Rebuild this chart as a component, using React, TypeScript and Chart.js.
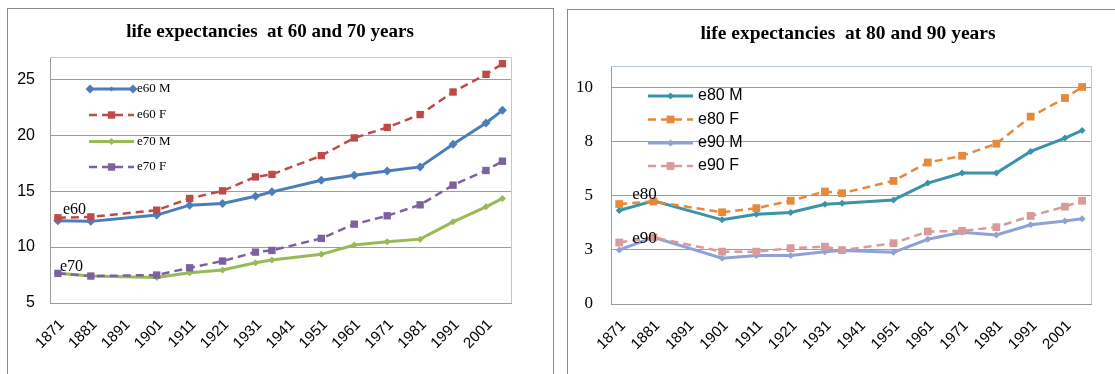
import React, { useEffect, useRef } from 'react';
import { Chart, registerables } from 'chart.js';

Chart.register(...registerables);

// Census / life-table years on the horizontal axis
const years = [1871, 1881, 1901, 1911, 1921, 1931, 1936, 1951, 1961, 1971, 1981, 1991, 2001, 2006];
const yearTicks = [1871, 1881, 1891, 1901, 1911, 1921, 1931, 1941, 1951, 1961, 1971, 1981, 1991, 2001];

// Remaining life expectancy at age 60 and 70 (years)
const e60M = [12.35, 12.3, 12.86, 13.75, 13.9, 14.55, 14.94, 15.98, 16.43, 16.8, 17.17, 19.2, 21.1, 22.23];
const e60F = [12.62, 12.7, 13.3, 14.35, 15.03, 16.28, 16.5, 18.18, 19.76, 20.7, 21.85, 23.87, 25.45, 26.4];
const e70M = [7.65, 7.41, 7.29, 7.7, 7.95, 8.6, 8.84, 9.35, 10.18, 10.47, 10.71, 12.26, 13.6, 14.35];
const e70F = [7.65, 7.41, 7.5, 8.15, 8.75, 9.55, 9.7, 10.78, 12.05, 12.8, 13.78, 15.54, 16.85, 17.68];

// Remaining life expectancy at age 80 and 90 (years)
const e80M = [4.32, 4.77, 3.89, 4.15, 4.23, 4.61, 4.66, 4.81, 5.59, 6.05, 6.05, 7.05, 7.67, 8.02];
const e80F = [4.62, 4.74, 4.24, 4.43, 4.77, 5.2, 5.12, 5.69, 6.54, 6.85, 7.41, 8.66, 9.52, 10.03];
const e90M = [2.5, 3.08, 2.12, 2.24, 2.24, 2.42, 2.47, 2.39, 2.99, 3.32, 3.19, 3.66, 3.84, 3.94];
const e90F = [2.84, 3.08, 2.42, 2.42, 2.58, 2.65, 2.49, 2.81, 3.35, 3.38, 3.55, 4.07, 4.5, 4.77];

const leftYTicks = [5, 10, 15, 20, 25];
const rightYTicks = [0, 2.5, 5, 7.5, 10];

const GRID = '#9c9c9c';
const AREA_EDGE = '#b9c9dc';

type Marker = 'rect' | 'rectRot';
interface Series {
  label: string;
  data: number[];
  color: string;
  dashed: boolean;
  marker: Marker;
  radius: number;
  width: number;
  legendEnds?: boolean;
}

interface Note {
  text: string;
  series: number;
  dx: number;
  dy: number;
}

interface Spec {
  title: string;
  titleFont: string;
  titleX: number;
  titleY: number;
  w: number;
  h: number;
  padTop: number;
  padRight: number;
  yAxisW: number;
  xAxisH: number;
  xMin: number;
  xMax: number;
  yMin: number;
  yMax: number;
  yTicks: number[];
  yFont: { family: string; size: number };
  yPad: number;
  xFont: { family: string; size: number };
  xPad: number;
  xLabelOffset: number;
  series: Series[];
  legendFont: string;
  legendX0: number;
  legendX1: number;
  legendTextX: number;
  legendRows: number[];
  notes: Note[];
  noteFont: string;
}

const leftSpec: Spec = {
  title: 'life expectancies  at 60 and 70 years',
  titleFont: 'bold 19px "Liberation Serif"',
  titleX: 262,
  titleY: 23,
  w: 545,
  h: 365,
  padTop: 48,
  padRight: 42,
  yAxisW: 42,
  xAxisH: 71,
  xMin: 1868.6,
  xMax: 2008.6,
  yMin: 5,
  yMax: 27,
  yTicks: leftYTicks,
  yFont: { family: '"Liberation Sans"', size: 16 },
  yPad: 15,
  xFont: { family: '"Liberation Sans"', size: 15 },
  xPad: 13,
  xLabelOffset: 4,
  series: [
    { label: 'e60 M', data: e60M, color: '#4a7ebb', dashed: false, marker: 'rectRot', radius: 4.5, width: 3, legendEnds: true },
    { label: 'e60 F', data: e60F, color: '#be4b48', dashed: true, marker: 'rect', radius: 5.2, width: 2.5 },
    { label: 'e70 M', data: e70M, color: '#98b954', dashed: false, marker: 'rectRot', radius: 3.5, width: 3 },
    { label: 'e70 F', data: e70F, color: '#7d60a0', dashed: true, marker: 'rect', radius: 5.2, width: 2.5 },
  ],
  legendFont: '13px "Liberation Serif"',
  legendX0: 81,
  legendX1: 126,
  legendTextX: 129,
  legendRows: [80, 106, 132.5, 158],
  notes: [
    { text: 'e60', series: 1, dx: 5, dy: -8 },
    { text: 'e70', series: 3, dx: 2, dy: -7 },
  ],
  noteFont: '16px "Liberation Serif"',
};

const rightSpec: Spec = {
  title: 'life expectancies  at 80 and 90 years',
  titleFont: 'bold 19.5px "Liberation Serif"',
  titleX: 280,
  titleY: 24,
  w: 547,
  h: 364,
  padTop: 56,
  padRight: 24,
  yAxisW: 43,
  xAxisH: 70,
  xMin: 1868.6,
  xMax: 2008.6,
  yMin: 0,
  yMax: 11,
  yTicks: rightYTicks,
  yFont: { family: '"Liberation Serif"', size: 17 },
  yPad: 18,
  xFont: { family: '"Liberation Sans"', size: 15 },
  xPad: 13,
  xLabelOffset: 4,
  series: [
    { label: 'e80 M', data: e80M, color: '#3b93a9', dashed: false, marker: 'rectRot', radius: 3.5, width: 3 },
    { label: 'e80 F', data: e80F, color: '#e6893a', dashed: true, marker: 'rect', radius: 5.5, width: 2.5 },
    { label: 'e90 M', data: e90M, color: '#8fa2d6', dashed: false, marker: 'rectRot', radius: 3.5, width: 3 },
    { label: 'e90 F', data: e90F, color: '#d89a9a', dashed: true, marker: 'rect', radius: 5.5, width: 2.5 },
  ],
  legendFont: '16px "Liberation Sans"',
  legendX0: 80,
  legendX1: 125,
  legendTextX: 130,
  legendRows: [86, 109.5, 133, 156],
  notes: [
    { text: 'e80', series: 1, dx: 13, dy: -10 },
    { text: 'e90', series: 3, dx: 13, dy: -4 },
  ],
  noteFont: '17px "Liberation Serif"',
};

const DASH = [8, 5];

function drawMarker(ctx: CanvasRenderingContext2D, marker: Marker, x: number, y: number, r: number, color: string) {
  ctx.save();
  ctx.fillStyle = color;
  ctx.beginPath();
  if (marker === 'rect') {
    const s = Math.SQRT1_2 * r;
    ctx.rect(x - s, y - s, 2 * s, 2 * s);
  } else {
    ctx.moveTo(x, y - r);
    ctx.lineTo(x + r, y);
    ctx.lineTo(x, y + r);
    ctx.lineTo(x - r, y);
    ctx.closePath();
  }
  ctx.fill();
  ctx.restore();
}

function decorPlugin(spec: Spec) {
  return {
    id: 'decor',
    beforeDatasetsDraw(chart: Chart) {
      // light frame on the top and right of the plot area
      const { ctx, chartArea: a } = chart;
      ctx.save();
      ctx.strokeStyle = AREA_EDGE;
      ctx.lineWidth = 1;
      ctx.beginPath();
      ctx.moveTo(a.left, Math.round(a.top) + 0.5);
      ctx.lineTo(Math.round(a.right) + 0.5, Math.round(a.top) + 0.5);
      ctx.lineTo(Math.round(a.right) + 0.5, a.bottom);
      ctx.stroke();
      ctx.restore();
    },
    afterDraw(chart: Chart) {
      const { ctx } = chart;
      const xs = chart.scales.x;
      const ys = chart.scales.y;
      ctx.save();

      // title
      ctx.fillStyle = '#000';
      ctx.font = spec.titleFont;
      ctx.textAlign = 'center';
      ctx.textBaseline = 'middle';
      ctx.fillText(spec.title, spec.titleX, spec.titleY);

      // legend inside the plot area
      spec.series.forEach((s, i) => {
        const y = spec.legendRows[i];
        ctx.save();
        ctx.strokeStyle = s.color;
        ctx.lineWidth = s.width;
        ctx.setLineDash(s.dashed ? DASH : []);
        ctx.beginPath();
        ctx.moveTo(spec.legendX0, y);
        ctx.lineTo(spec.legendX1, y);
        ctx.stroke();
        ctx.restore();
        const mid = (spec.legendX0 + spec.legendX1) / 2;
        if (s.legendEnds) {
          drawMarker(ctx, s.marker, spec.legendX0 + 1, y, s.radius, s.color);
          drawMarker(ctx, s.marker, spec.legendX1 - 1, y, s.radius, s.color);
          drawMarker(ctx, s.marker, mid, y, 2.5, s.color);
        } else {
          drawMarker(ctx, s.marker, mid, y, s.radius, s.color);
        }
        ctx.fillStyle = '#000';
        ctx.font = spec.legendFont;
        ctx.textAlign = 'left';
        ctx.textBaseline = 'middle';
        ctx.fillText(s.label, spec.legendTextX, y);
      });

      // group labels next to the first observation
      ctx.font = spec.noteFont;
      ctx.fillStyle = '#000';
      ctx.textAlign = 'left';
      ctx.textBaseline = 'middle';
      spec.notes.forEach((n) => {
        const px = xs.getPixelForValue(years[0]);
        const py = ys.getPixelForValue(spec.series[n.series].data[0]);
        ctx.fillText(n.text, px + n.dx, py + n.dy);
      });
      ctx.restore();
    },
  };
}

function buildConfig(spec: Spec): any {
  const datasets = spec.series.map((s, i) => ({
    label: s.label,
    data: years.map((yr, k) => ({ x: yr, y: s.data[k] })),
    borderColor: s.color,
    backgroundColor: s.color,
    borderWidth: s.width,
    borderDash: s.dashed ? DASH : [],
    pointStyle: s.marker,
    pointRadius: s.radius,
    pointBorderWidth: 0,
    pointBackgroundColor: s.color,
    pointBorderColor: s.color,
    tension: 0,
    fill: false,
    order: spec.series.length - i,
  }));

  return {
    type: 'line',
    data: { datasets },
    options: {
      responsive: false,
      animation: false,
      devicePixelRatio: 1,
      events: [],
      layout: {
        autoPadding: false,
        padding: { left: 0, right: spec.padRight, top: spec.padTop, bottom: 0 },
      },
      plugins: {
        legend: { display: false },
        title: { display: false },
        tooltip: { enabled: false },
      },
      scales: {
        x: {
          type: 'linear',
          min: spec.xMin,
          max: spec.xMax,
          afterBuildTicks: (s: any) => {
            s.ticks = yearTicks.map((v) => ({ value: v }));
          },
          afterFit: (s: any) => {
            s.height = spec.xAxisH;
          },
          grid: { display: false, drawTicks: false },
          border: { display: true, color: GRID, width: 1 },
          ticks: {
            autoSkip: false,
            minRotation: 45,
            maxRotation: 45,
            padding: spec.xPad,
            labelOffset: spec.xLabelOffset,
            color: '#000',
            font: spec.xFont,
            callback: (v: number) => String(v),
          },
        },
        y: {
          type: 'linear',
          min: spec.yMin,
          max: spec.yMax,
          afterBuildTicks: (s: any) => {
            s.ticks = spec.yTicks.map((v) => ({ value: v }));
          },
          afterFit: (s: any) => {
            s.width = spec.yAxisW;
          },
          grid: { color: GRID, drawTicks: false, lineWidth: 1 },
          border: { display: true, color: GRID, width: 1 },
          ticks: {
            padding: spec.yPad,
            color: '#000',
            font: spec.yFont,
            callback: (v: number) => String(Math.round(v)),
          },
        },
      },
    },
    plugins: [decorPlugin(spec)],
  };
}

function LineChart({ spec }: { spec: Spec }) {
  const ref = useRef<HTMLCanvasElement>(null);
  useEffect(() => {
    if (!ref.current) return;
    const chart = new Chart(ref.current, buildConfig(spec));
    return () => chart.destroy();
  }, [spec]);
  return (
    <canvas
      ref={ref}
      width={spec.w}
      height={spec.h}
      style={{ display: 'block', width: spec.w, height: spec.h }}
    />
  );
}

const frame: React.CSSProperties = {
  position: 'absolute',
  boxSizing: 'border-box',
  border: '1px solid #8a8a8a',
  background: '#fff',
  overflow: 'hidden',
};

export default function App() {
  return (
    <div
      style={{
        position: 'absolute',
        left: 0,
        top: 0,
        width: 1115,
        height: 374,
        overflow: 'hidden',
        background: '#fff',
      }}
    >
      <div style={{ ...frame, left: 7, top: 8, width: 547, height: 400 }}>
        <LineChart spec={leftSpec} />
      </div>
      <div style={{ ...frame, left: 567, top: 9, width: 600, height: 400 }}>
        <LineChart spec={rightSpec} />
      </div>
    </div>
  );
}
